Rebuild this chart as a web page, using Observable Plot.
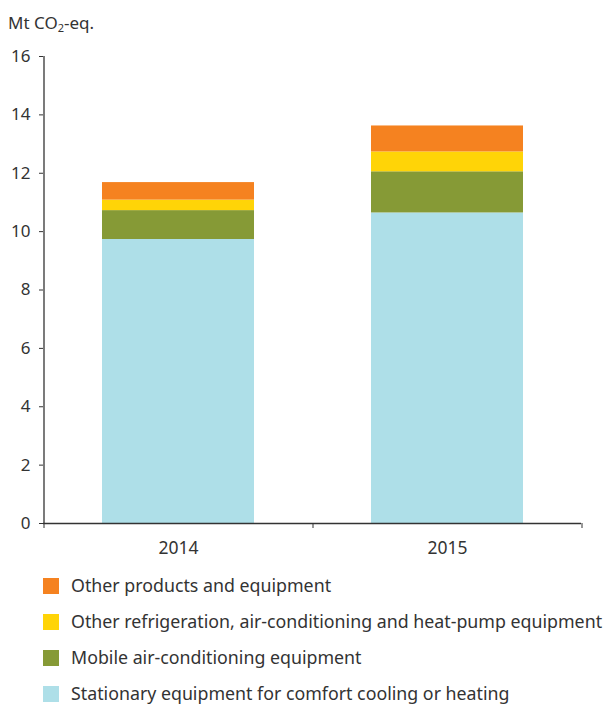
<!DOCTYPE html>
<html>
<head>
<meta charset="utf-8">
<script src="https://cdn.jsdelivr.net/npm/d3@7"></script>
<script src="https://cdn.jsdelivr.net/npm/@observablehq/plot@0.6"></script>
<style>
  body { margin: 0; background: #fff; font-family: "Noto Sans", "Open Sans", sans-serif; color: #333; }
  #wrap { position: relative; width: 606px; }
  #title { height: 40px; font-size: 17px; padding-left: 8px; line-height: 1; padding-top: 14px; box-sizing: border-box; }
  #title sub { font-size: 11px; vertical-align: -3px; line-height: 0; }
  #legend { padding-left: 43px; padding-top: 3px; }
  .row { display: flex; align-items: center; height: 36px; font-size: 17.8px; white-space: nowrap; line-height: 1.2; }
  .sw { width: 16px; height: 16px; margin-right: 12px; flex: none; }
</style>
</head>
<body>
<div id="wrap">
  <div id="title">Mt CO<sub>2</sub>-eq.</div>
  <div id="chart"></div>
  <div id="legend"></div>
</div>
<script>
const years = ["2014", "2015"];
const categories = [
  "Stationary equipment for comfort cooling or heating",
  "Mobile air-conditioning equipment",
  "Other refrigeration, air-conditioning and heat-pump equipment",
  "Other products and equipment"
];
const stationary = [9.73, 10.64];
const mobile = [0.99, 1.41];
const otherRefrigeration = [0.36, 0.68];
const otherProducts = [0.60, 0.89];
const colors = ["#aedfe8", "#869a36", "#ffd407", "#f58220"];
const yTicks = [0, 2, 4, 6, 8, 10, 12, 14, 16];

const seriesValues = [stationary, mobile, otherRefrigeration, otherProducts];
const data = [];
categories.forEach((c, ci) => years.forEach((y, yi) => data.push({year: y, category: c, value: seriesValues[ci][yi]})));

const W = 606, H = 525, ML = 43, MR = 25, MT = 16, MB = 42;
const step = (W - ML - MR) / years.length;

const chart = Plot.plot({
  width: W, height: H,
  marginLeft: ML, marginRight: MR, marginTop: MT, marginBottom: MB,
  style: {fontFamily: "'Noto Sans', 'Open Sans', sans-serif", fontSize: "17px", color: "#333", background: "#fff"},
  x: {domain: years, paddingInner: 0.435, paddingOuter: 0.2175, axis: null},
  y: {domain: [0, 16], axis: null},
  color: {domain: categories, range: colors},
  marks: [
    Plot.barY(data, {x: "year", y: "value", fill: "category", order: categories}),
    Plot.axisY({ticks: yTicks, tickSize: 4, tickPadding: 9, fontSize: 17, stroke: "#333", fill: "#333", label: null}),
    Plot.axisX({ticks: years, tickSize: 0, tickPadding: 18, fontSize: 17.5, fill: "#333", label: null}),
    Plot.axisX({ticks: years.slice(0, 1), tickSize: 5, tickFormat: () => "", dx: -step / 2, stroke: "#333", label: null}),
    Plot.axisX({ticks: years, tickSize: 5, tickFormat: () => "", dx: step / 2, stroke: "#333", label: null}),
    Plot.ruleX(years.slice(0, 1), {dx: -step / 2, stroke: "#333", strokeWidth: 1.3}),
    Plot.ruleY([0], {stroke: "#333", strokeWidth: 1.3})
  ]
});
document.getElementById("chart").appendChild(chart);

const legend = document.getElementById("legend");
categories.slice().reverse().forEach((c) => {
  const row = document.createElement("div");
  row.className = "row";
  const sw = document.createElement("div");
  sw.className = "sw";
  sw.style.background = colors[categories.indexOf(c)];
  const t = document.createElement("span");
  t.textContent = c;
  row.appendChild(sw); row.appendChild(t);
  legend.appendChild(row);
});
</script>
</body>
</html>
